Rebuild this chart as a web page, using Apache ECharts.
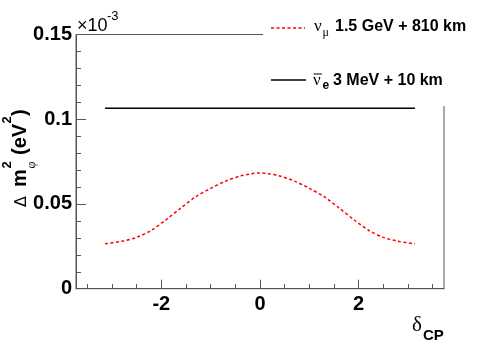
<!DOCTYPE html>
<html>
<head>
<meta charset="utf-8">
<script src="https://cdn.jsdelivr.net/npm/echarts@6/dist/echarts.min.js"></script>
<style>
  html, body { margin: 0; padding: 0; background: #fff; }
  #chart { width: 494px; height: 355px; }
</style>
</head>
<body>
<div id="chart"></div>
<script>
// delta_CP 取值 (rad) 与 Δm² (×10^-3 eV²)
const deltaCP = [-3.1416, -2.8, -2.5, -2.2, -1.9, -1.6, -1.3, -1.0, -0.7, -0.4, -0.2, 0,
                 0.2, 0.4, 0.7, 1.0, 1.3, 1.6, 1.9, 2.2, 2.5, 2.8, 3.1416];
const numuDm2 = [0.0265, 0.0280, 0.0303, 0.0345, 0.0408, 0.0477, 0.0543, 0.0592, 0.0635, 0.0665, 0.0677, 0.0683,
                 0.0677, 0.0665, 0.0635, 0.0592, 0.0543, 0.0477, 0.0408, 0.0345, 0.0303, 0.0280, 0.0265];
const deltaFlat = [-3.1416, 3.1416];
const nuebarDm2 = [0.1065, 0.1065];

const xLabels = [-2, 0, 2];
const xMinorTicks = [-3.5, -3, -2.5, -1.5, -1, -0.5, 0.5, 1, 1.5, 2.5, 3, 3.5];

const frameColor = '#555';
const sans = '"Liberation Sans", Arial, sans-serif';
const serif = '"Liberation Serif", "DejaVu Serif", serif';

const chart = echarts.init(document.getElementById('chart'));

const txt = (x, y, text, font, extra) => ({
    type: 'text', x, y, z: 101,
    style: Object.assign({ text, font, fill: '#000', align: 'left', verticalAlign: 'middle' }, extra || {})
});

// x 轴刻度 (朝内) 用 markLine 画短线, 长度按 y 轴数值给出
const tickSeg = (x, len) => [{ coord: [x, 0] }, { coord: [x, len] }];
const xTickLines = xLabels.map(x => tickSeg(x, 0.0053)).concat(xMinorTicks.map(x => tickSeg(x, 0.0027)));

chart.setOption({
    animation: false,
    backgroundColor: '#fff',
    grid: { left: 76, right: 50, top: 34.5, bottom: 66.3, show: true, borderColor: frameColor, borderWidth: 1 },
    xAxis: {
        type: 'value', min: -3.73, max: 3.73, splitNumber: 4, minInterval: 2, maxInterval: 2,
        axisLine: { show: true, onZero: false, lineStyle: { color: frameColor } },
        axisTick: { show: false },
        axisLabel: {
            showMinLabel: false, showMaxLabel: false, margin: 6,
            formatter: v => xLabels.includes(v) ? String(v) : '',
            color: '#000', fontFamily: sans, fontWeight: 'bold', fontSize: 20
        },
        splitLine: { show: false }
    },
    yAxis: {
        type: 'value', min: 0, max: 0.15, interval: 0.05,
        axisLine: { show: true, onZero: false, lineStyle: { color: frameColor } },
        axisTick: { show: true, inside: true, length: 10, lineStyle: { color: frameColor } },
        minorTick: { show: true, splitNumber: 5, length: 5, lineStyle: { color: frameColor } },
        axisLabel: { margin: 4, color: '#000', fontFamily: sans, fontWeight: 'bold', fontSize: 20 },
        splitLine: { show: false }
    },
    series: [{
        type: 'line',
        data: deltaCP.map((d, i) => [d, numuDm2[i]]),
        showSymbol: false,
        smooth: 0.3,
        lineStyle: { color: '#ff0000', width: 1.5, type: [3, 2.5] },
        z: 3
    }, {
        type: 'line',
        data: deltaFlat.map((d, i) => [d, nuebarDm2[i]]),
        showSymbol: false,
        lineStyle: { color: '#000', width: 1.5 },
        z: 3,
        markLine: {
            silent: true, symbol: 'none', animation: false,
            label: { show: false },
            lineStyle: { color: frameColor, width: 1, type: 'solid' },
            emphasis: { disabled: true },
            data: xTickLines
        }
    }],
    graphic: [
        // 图例遮挡区域
        { type: 'rect', z: 100, shape: { x: 263, y: 0, width: 231, height: 106 }, style: { fill: '#fff' } },
        { type: 'line', z: 101, shape: { x1: 271, y1: 28, x2: 305, y2: 28 }, style: { stroke: '#ff0000', lineWidth: 1.5, lineDash: [3, 2.5] } },
        txt(314, 26.5, 'ν', '17px ' + serif),
        txt(322.5, 33, 'μ', '12px ' + serif),
        txt(335, 26.5, '1.5 GeV + 810 km', 'bold 16px ' + sans),
        { type: 'line', z: 101, shape: { x1: 271, y1: 80, x2: 306, y2: 80 }, style: { stroke: '#000', lineWidth: 1.5 } },
        { type: 'line', z: 101, shape: { x1: 313.5, y1: 74, x2: 322, y2: 74 }, style: { stroke: '#000', lineWidth: 1 } },
        txt(313, 80.5, 'ν', '17px ' + serif),
        txt(322.5, 86, 'e', 'bold 12px ' + sans),
        txt(333, 80.2, '3 MeV + 10 km', 'bold 16px ' + sans),
        // ×10^-3
        txt(77, 26, '×10', '18px ' + sans),
        txt(107, 16.5, '-3', '13px ' + sans),
        // x 轴标题
        txt(412, 325.6, 'δ', '21px ' + serif),
        txt(423, 335.6, 'CP', 'bold 15px ' + sans),
        // y 轴标题 (旋转)
        {
            type: 'group', x: 27, y: 207, rotation: Math.PI / 2,
            children: [
                txt(0, -5.5, 'Δ', '16px "DejaVu Sans", sans-serif'),
                txt(20, -7, 'm', 'bold 20px ' + sans),
                txt(38.5, -19.5, '2', 'bold 13px ' + sans),
                txt(38.5, 4.5, 'φ', '12px ' + serif),
                txt(52, -7, '(eV', 'bold 20px ' + sans),
                txt(83.5, -19.5, '2', 'bold 13px ' + sans),
                txt(91, -7, ')', 'bold 20px ' + sans)
            ]
        }
    ]
});
</script>
</body>
</html>
